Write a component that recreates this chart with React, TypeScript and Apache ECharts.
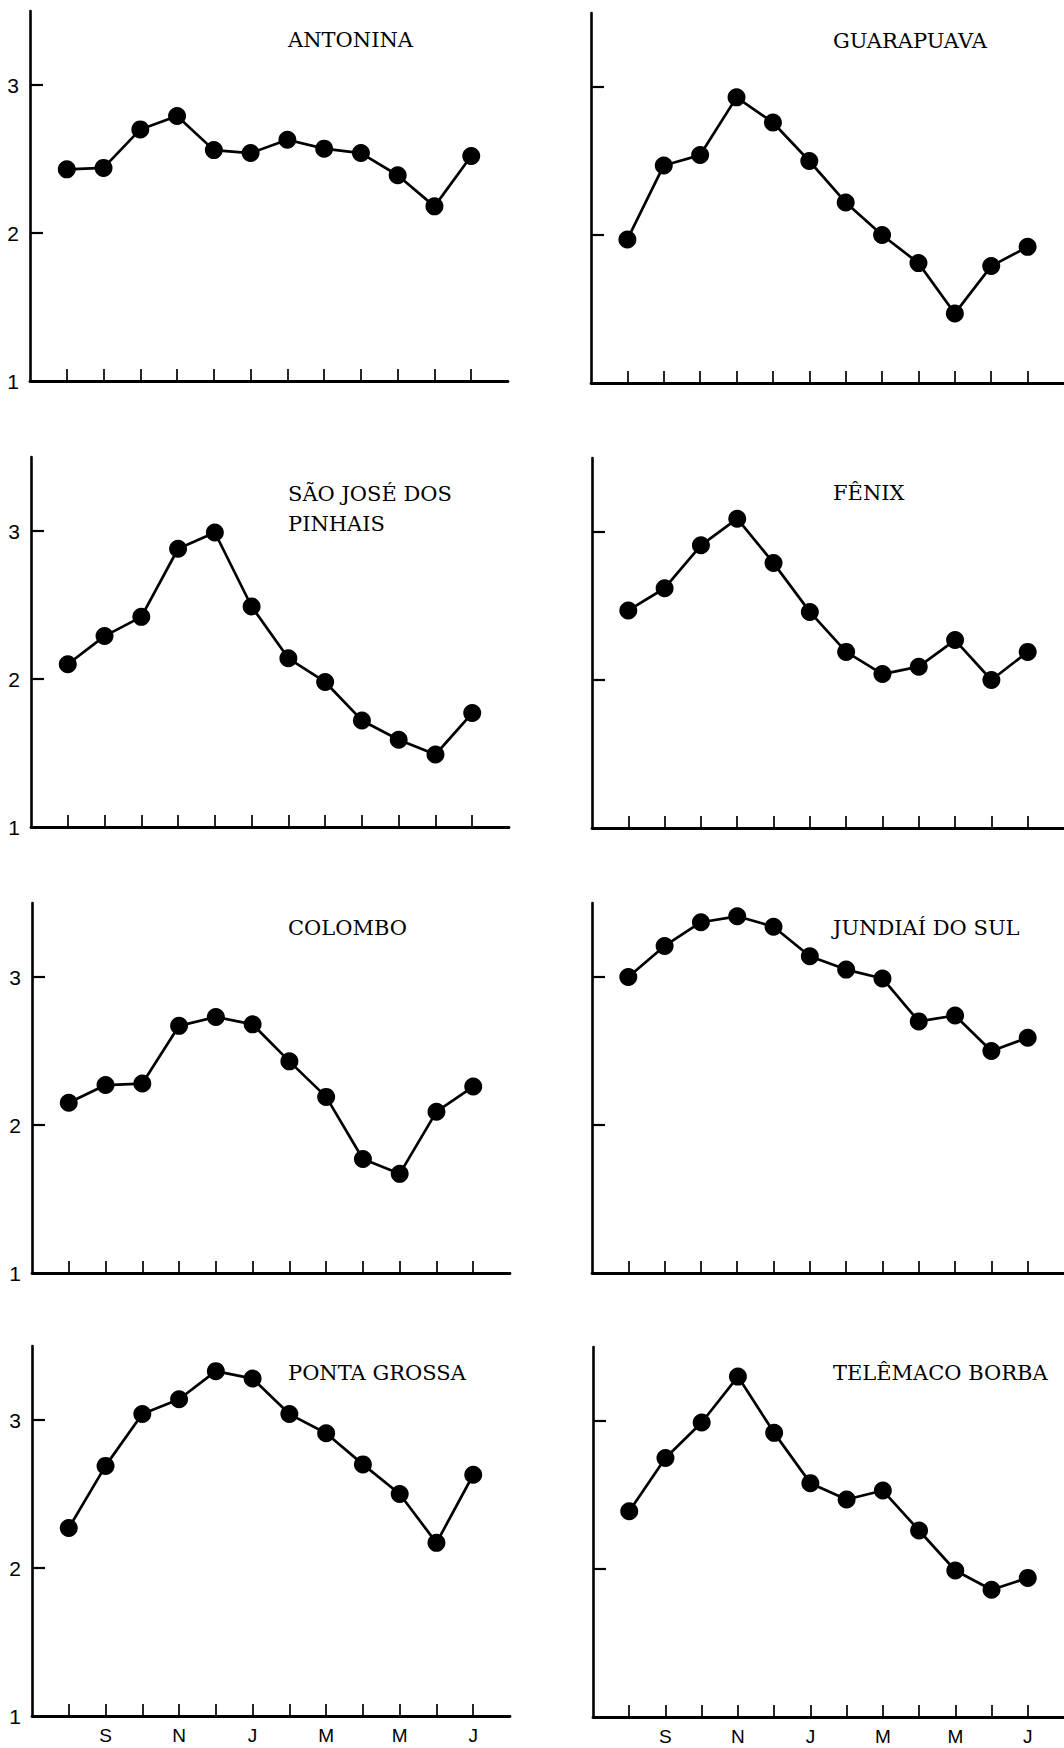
import React, { useEffect, useRef } from "react";
import * as echarts from "echarts";

// Month slots along each x axis (August .. July) and their initials
const monthSlots = [1, 2, 3, 4, 5, 6, 7, 8, 9, 10, 11, 12];
const monthLetters = ["A", "S", "O", "N", "D", "J", "F", "M", "A", "M", "J", "J"];
const labelledSlots = [2, 4, 6, 8, 10, 12];

// Y axis marks
const yTickValues = [2, 3];
const yLabelValues = [1, 2, 3];

// Station names
const stationNames = [
  "ANTONINA",
  "GUARAPUAVA",
  "SÃO JOSÉ DOS\nPINHAIS",
  "FÊNIX",
  "COLOMBO",
  "JUNDIAÍ DO SUL",
  "PONTA GROSSA",
  "TELÊMACO BORBA",
];

// Monthly values per station
const antonina = [2.43, 2.44, 2.7, 2.79, 2.56, 2.54, 2.63, 2.57, 2.54, 2.39, 2.18, 2.52];
const guarapuava = [1.97, 2.47, 2.54, 2.93, 2.76, 2.5, 2.22, 2.0, 1.81, 1.47, 1.79, 1.92];
const saoJoseDosPinhais = [2.1, 2.29, 2.42, 2.88, 2.99, 2.49, 2.14, 1.98, 1.72, 1.59, 1.49, 1.77];
const fenix = [2.47, 2.62, 2.91, 3.09, 2.79, 2.46, 2.19, 2.04, 2.09, 2.27, 2.0, 2.19];
const colombo = [2.15, 2.27, 2.28, 2.67, 2.73, 2.68, 2.43, 2.19, 1.77, 1.67, 2.09, 2.26];
const jundiaiDoSul = [3.0, 3.21, 3.37, 3.41, 3.34, 3.14, 3.05, 2.99, 2.7, 2.74, 2.5, 2.59];
const pontaGrossa = [2.27, 2.69, 3.04, 3.14, 3.33, 3.28, 3.04, 2.91, 2.7, 2.5, 2.17, 2.63];
const telemacoBorba = [2.39, 2.75, 2.99, 3.3, 2.92, 2.58, 2.47, 2.53, 2.26, 1.99, 1.86, 1.94];

const stationValues = [
  antonina,
  guarapuava,
  saoJoseDosPinhais,
  fenix,
  colombo,
  jundiaiDoSul,
  pontaGrossa,
  telemacoBorba,
];

// Panel placement: left edge of the y axis and pixel row of the x axis
const panels = [
  { left: 30, axisY: 381, titleY: 40 },
  { left: 591, axisY: 383, titleY: 41 },
  { left: 31, axisY: 827, titleY: 494 },
  { left: 592, axisY: 828, titleY: 493 },
  { left: 32, axisY: 1273, titleY: 928 },
  { left: 592, axisY: 1273, titleY: 928 },
  { left: 32, axisY: 1716, titleY: 1373 },
  { left: 593, axisY: 1717, titleY: 1373 },
];

const INK = "#000";
const PLOT_HEIGHT = 370; // 2.5 units on the y axis

function buildOption() {
  const grid: any[] = [];
  const xAxis: any[] = [];
  const yAxis: any[] = [];
  const series: any[] = [];
  const title: any[] = [];

  panels.forEach((p, i) => {
    const isLeft = i % 2 === 0;
    const isBottom = i >= 6;
    grid.push({
      left: p.left,
      top: p.axisY - PLOT_HEIGHT,
      width: isLeft ? 478 : 481,
      height: PLOT_HEIGHT,
      containLabel: false,
    });
    xAxis.push({
      type: "value",
      gridIndex: i,
      min: 0,
      max: 13,
      interval: 1,
      splitLine: { show: false },
      axisLine: { show: true, onZero: false, lineStyle: { color: INK, width: 2.8 } },
      axisTick: {
        show: true,
        inside: true,
        length: 12,
        customValues: monthSlots,
        lineStyle: { color: INK, width: 1.7 },
      },
      axisLabel: {
        show: isBottom,
        customValues: labelledSlots,
        margin: 10,
        color: INK,
        fontFamily: "Liberation Sans, Arial, sans-serif",
        fontSize: 19,
        formatter: (v: number) => monthLetters[v - 1] ?? "",
      },
    });
    yAxis.push({
      type: "value",
      gridIndex: i,
      min: 1,
      max: 3.5,
      interval: 1,
      splitLine: { show: false },
      axisLine: { show: true, onZero: false, lineStyle: { color: INK, width: 2.6 } },
      axisTick: {
        show: true,
        inside: true,
        length: 13,
        customValues: yTickValues,
        lineStyle: { color: INK, width: 2.2 },
      },
      axisLabel: {
        show: isLeft,
        customValues: yLabelValues,
        margin: 11,
        color: INK,
        fontFamily: "Liberation Sans, Arial, sans-serif",
        fontSize: 21,
        showMinLabel: true,
      },
    });
    series.push({
      type: "line",
      xAxisIndex: i,
      yAxisIndex: i,
      data: monthSlots.map((m, k) => [m, stationValues[i][k]]),
      symbol: "circle",
      symbolSize: 18,
      lineStyle: { color: INK, width: 2.7 },
      itemStyle: { color: INK },
      silent: true,
    });
    title.push({
      text: stationNames[i],
      left: isLeft ? 288 : 833,
      top: p.titleY - 15,
      padding: 0,
      textStyle: {
        fontFamily: "DejaVu Serif, serif",
        fontSize: 21,
        fontWeight: "normal",
        color: INK,
        lineHeight: 30,
      },
    });
  });

  return {
    animation: false,
    backgroundColor: "#fff",
    title,
    grid,
    xAxis,
    yAxis,
    series,
  };
}

export default function App() {
  const ref = useRef<HTMLDivElement>(null);

  useEffect(() => {
    if (!ref.current) return;
    const chart = echarts.init(ref.current, undefined, { renderer: "svg" });
    chart.setOption(buildOption());
    return () => chart.dispose();
  }, []);

  return (
    <div
      ref={ref}
      style={{
        position: "absolute",
        left: 0,
        top: 0,
        width: 1064,
        height: 1748,
        background: "#fff",
      }}
    />
  );
}
